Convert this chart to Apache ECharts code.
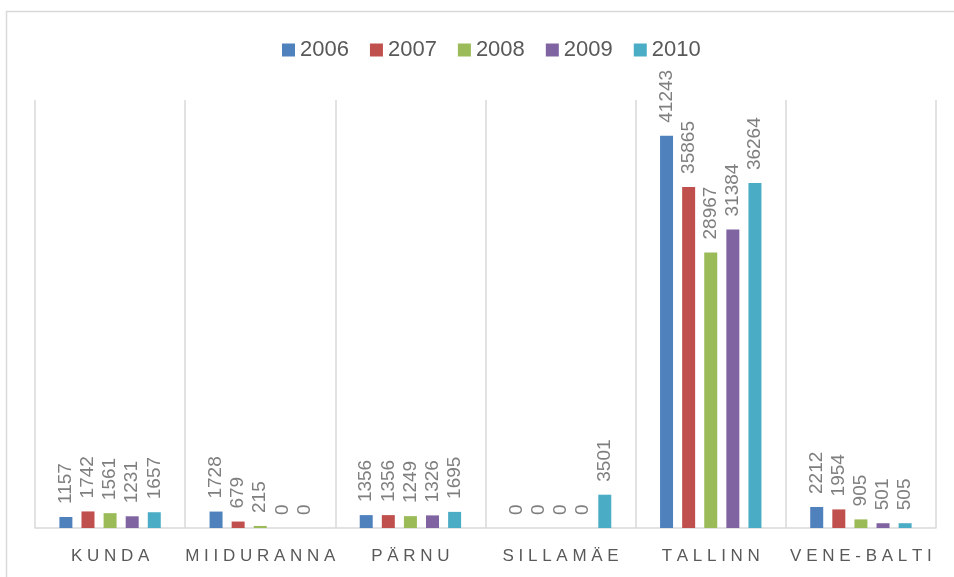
<!DOCTYPE html>
<html>
<head>
<meta charset="utf-8">
<style>
  html, body { margin: 0; padding: 0; background: #ffffff; }
  #chart { width: 954px; height: 577px; }
</style>
<script src="https://cdn.jsdelivr.net/npm/echarts@6/dist/echarts.min.js"></script>
</head>
<body>
<div id="chart"></div>
<script>
// Ports and yearly values
const ports = ['KUNDA', 'MIIDURANNA', 'PÄRNU', 'SILLAMÄE', 'TALLINN', 'VENE-BALTI'];
const years = ['2006', '2007', '2008', '2009', '2010'];
const values2006 = [1157, 1728, 1356, 0, 41243, 2212];
const values2007 = [1742, 679, 1356, 0, 35865, 1954];
const values2008 = [1561, 215, 1249, 0, 28967, 905];
const values2009 = [1231, 0, 1326, 0, 31384, 501];
const values2010 = [1657, 0, 1695, 3501, 36264, 505];
const colors = ['#4F81BD', '#C0504D', '#9BBB59', '#8064A2', '#4BACC6'];

const seriesValues = [values2006, values2007, values2008, values2009, values2010];
const fontFamily = '"Liberation Sans", Arial, sans-serif';

const chart = echarts.init(document.getElementById('chart'), null, { renderer: 'canvas' });

chart.setOption({
  animation: false,
  backgroundColor: '#ffffff',
  color: colors,
  textStyle: { fontFamily: fontFamily },
  graphic: [{
    type: 'rect',
    shape: { x: 6.5, y: 11.5, width: 960, height: 600 },
    style: { fill: 'none', stroke: '#d9d9d9', lineWidth: 1.5 },
    silent: true,
    z: -1
  }],
  legend: {
    top: 34,
    left: 277,
    itemWidth: 13,
    itemHeight: 13,
    itemGap: 21,
    icon: 'rect',
    textStyle: { color: '#595959', fontSize: 22, fontFamily: fontFamily },
    data: years
  },
  grid: { left: 35, right: 18, top: 100, bottom: 49, containLabel: false },
  xAxis: {
    type: 'category',
    data: ports,
    axisLine: { lineStyle: { color: '#d9d9d9', width: 1.5 } },
    axisTick: { show: false },
    splitLine: { show: true, interval: 0, lineStyle: { color: '#d9d9d9', width: 1.5 } },
    axisLabel: {
      interval: 0,
      color: '#595959',
      fontSize: 17,
      margin: 20,
      formatter: (v) => v.split('').join(' ')
    }
  },
  yAxis: {
    type: 'value',
    min: 0,
    max: 45000,
    show: false,
    splitLine: { show: false }
  },
  series: years.map((y, i) => ({
    name: y,
    type: 'bar',
    data: seriesValues[i],
    barWidth: 13,
    barGap: '70%',
    label: {
      show: true,
      position: 'top',
      rotate: 90,
      align: 'left',
      verticalAlign: 'middle',
      distance: 13,
      color: '#7f7f7f',
      fontSize: 19,
      fontFamily: fontFamily
    }
  }))
});
</script>
</body>
</html>
